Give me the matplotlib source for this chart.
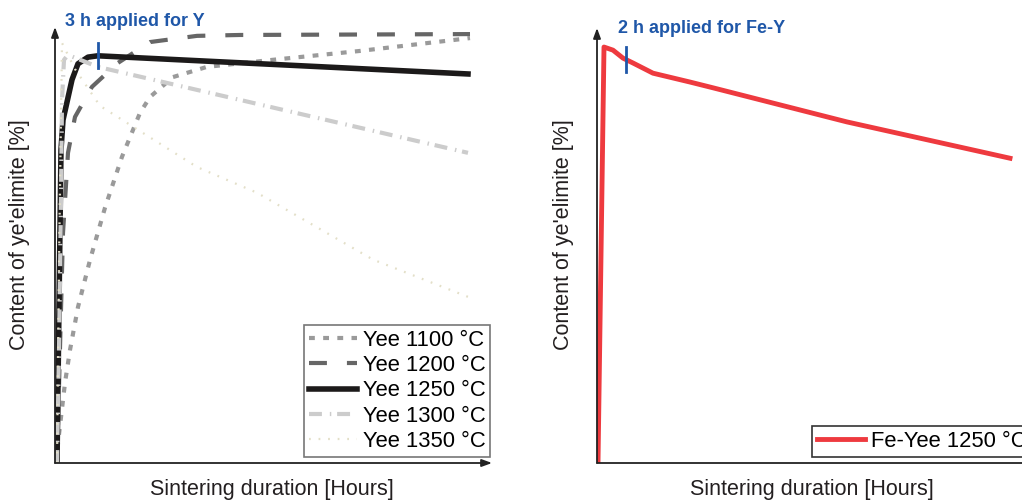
import matplotlib
matplotlib.use("Agg")
import matplotlib.pyplot as plt

plt.rcParams['font.family'] = ['Liberation Sans', 'DejaVu Sans']

# ---- data (hours, content %) ----
h1100 = [0.14, 0.21, 0.70, 1.05, 1.61, 2.45, 3.5, 4.69, 5.95, 6.65, 8.26, 10.64, 15.27, 21.36, 29.06]
v1100 = [0.0, 4.5, 18.1, 25.5, 35.2, 45.8, 57.6, 69.1, 79.0, 82.6, 87.1, 89.4, 91.0, 93.0, 95.9]

h1200 = [0.14, 0.56, 0.91, 1.40, 2.59, 4.41, 6.65, 9.94, 12.96, 29.06]
v1200 = [0.0, 51.9, 70.0, 78.1, 84.9, 90.3, 95.0, 96.4, 96.6, 96.8]

h1250 = [0.14, 0.42, 0.56, 1.19, 1.61, 2.31, 3.0, 28.92]
v1250 = [0.0, 70.7, 77.4, 86.5, 90.1, 91.6, 91.9, 87.8]

h1300 = [0.14, 0.28, 0.42, 0.49, 0.63, 0.91, 3.0, 28.92]
v1300 = [0.0, 25.5, 59.4, 81.9, 91.0, 92.1, 89.4, 70.0]

h1350 = [0.14, 0.3, 0.49, 1.4, 3.15, 9.94, 14.14, 22.27, 28.92]
v1350 = [0.0, 50.0, 94.8, 88.9, 80.6, 66.8, 61.0, 45.9, 37.5]

hFe = [0.07, 0.49, 1.12, 1.82, 2.52, 3.92, 6.51, 8.12, 17.5, 28.92]
vFe = [0.0, 93.9, 93.2, 91.4, 90.3, 88.0, 86.0, 84.7, 77.0, 68.8]

labels_left = ["Yee 1100 °C", "Yee 1200 °C", "Yee 1250 °C", "Yee 1300 °C", "Yee 1350 °C"]
label_right = "Fe-Yee 1250 °C"

mark_left_h, mark_left_v = 3.0, (89.2, 94.8)
mark_right_h, mark_right_v = 2.03, (88.3, 93.9)

W, H = 1022, 503
fig = plt.figure(figsize=(W / 100, H / 100), dpi=100)

def fx(px):
    return px / W

def fy(py):
    return (H - py) / H

ax1 = fig.add_axes([fx(55), fy(463), (492 - 55) / W, (463 - 27) / H])
ax2 = fig.add_axes([fx(597), fy(463), (1034 - 597) / W, (463 - 28) / H])

XMAX = 30.6
for ax, ytop in ((ax1, 98.4), (ax2, 98.2)):
    ax.set_xlim(0, XMAX)
    ax.set_ylim(0, ytop)
    for s in ax.spines.values():
        s.set_visible(False)
    ax.set_xticks([])
    ax.set_yticks([])
    ax.annotate('', xy=(0, 1), xytext=(0, 0), xycoords='axes fraction',
                arrowprops=dict(arrowstyle='-|>,head_length=0.6,head_width=0.22',
                                color='#222222', lw=1.3, shrinkA=0, shrinkB=0))
    ax.annotate('', xy=(1, 0), xytext=(0, 0), xycoords='axes fraction',
                arrowprops=dict(arrowstyle='-|>,head_length=0.6,head_width=0.22',
                                color='#222222', lw=1.3, shrinkA=0, shrinkB=0))

ax1.plot(h1100, v1100, color='#9a9a9a', lw=3, linestyle=(0, (1.4, 2.0)), label=labels_left[0])
ax1.plot(h1200, v1200, color='#666666', lw=3, linestyle=(0, (4.3, 4.8)), label=labels_left[1])
ax1.plot(h1250, v1250, color='#1c1a1a', lw=4, linestyle='-', label=labels_left[2])
ax1.plot(h1300, v1300, color='#cccccc', lw=3, linestyle=(0, (3.1, 1.9, 0.35, 1.4)), label=labels_left[3])
ax1.plot(h1350, v1350, color='#e3dfc8', lw=1.6, linestyle=(0, (0.8, 3.5)), label=labels_left[4])

ax1.plot([mark_left_h, mark_left_h], list(mark_left_v), color='#1f57a8', lw=2)

ax2.plot(hFe, vFe, color='#ee3a3f', lw=3.5, label=label_right)
ax2.plot([mark_right_h, mark_right_h], list(mark_right_v), color='#1f57a8', lw=2)

leg1 = ax1.legend(loc='lower left', bbox_to_anchor=(fx(304), fy(457)), bbox_transform=fig.transFigure,
                  borderaxespad=0, fontsize=15.8, handlelength=2.2, handletextpad=0.25,
                  labelspacing=0.2, borderpad=0.22, fancybox=False, framealpha=1,
                  edgecolor='#777777')
leg1.get_frame().set_linewidth(1.2)

leg2 = ax2.legend(loc='lower left', bbox_to_anchor=(fx(812), fy(457)), bbox_transform=fig.transFigure,
                  borderaxespad=0, fontsize=15.8, handlelength=2.2, handletextpad=0.25,
                  borderpad=0.22, fancybox=False, framealpha=1, edgecolor='#333333')
leg2.get_frame().set_linewidth(1.2)

txtcol = '#231f20'
fig.text(fx(272), fy(490), 'Sintering duration [Hours]', ha='center', va='center', fontsize=15.5, color=txtcol)
fig.text(fx(812), fy(490), 'Sintering duration [Hours]', ha='center', va='center', fontsize=15.5, color=txtcol)
fig.text(fx(20), fy(235), "Content of ye'elimite [%]", ha='center', va='center', rotation=90, fontsize=15.5, color=txtcol)
fig.text(fx(563), fy(235), "Content of ye'elimite [%]", ha='center', va='center', rotation=90, fontsize=15.5, color=txtcol)

fig.text(fx(65), fy(26), '3 h applied for Y', ha='left', va='baseline', fontsize=13, fontweight='bold', color='#1f57a8')
fig.text(fx(618), fy(33), '2 h applied for Fe-Y', ha='left', va='baseline', fontsize=13, fontweight='bold', color='#1f57a8')

fig.savefig('out.png', dpi=100)
